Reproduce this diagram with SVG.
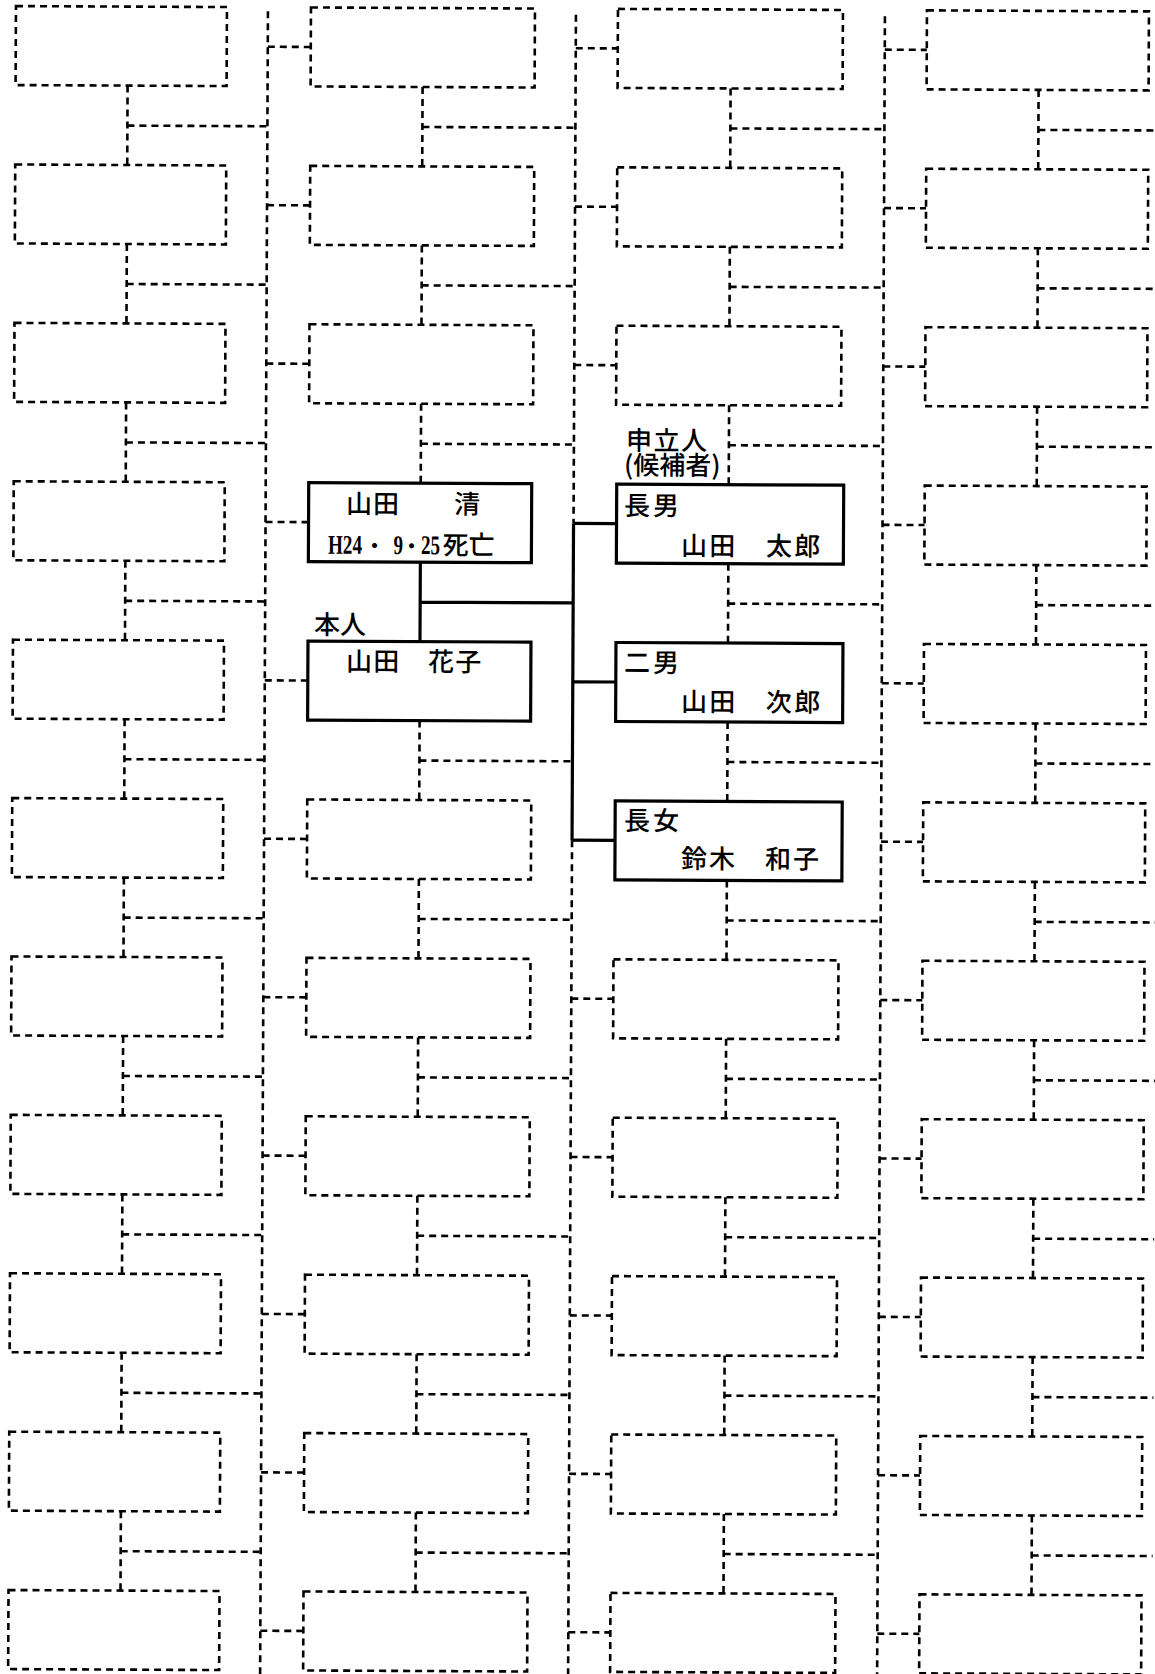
<svg xmlns="http://www.w3.org/2000/svg" width="1155" height="1674" viewBox="0 0 1155 1674">
<style>
.d{fill:none;stroke:#000;stroke-width:2.6;stroke-dasharray:7 5}
.s{fill:none;stroke:#000;stroke-width:3.2}
.t{font-family:"Noto Sans CJK JP","Noto Sans CJK SC",sans-serif;font-size:26px;font-weight:500;fill:#000}
.n{font-family:"Liberation Serif",serif;font-size:27px;font-weight:700}
</style>
<rect width="1155" height="1674" fill="#fff"/>
<g transform="rotate(0.27)">
<g id="connectors">
<path class="d" d="M268 10V1680"/>
<path class="d" d="M576 12V520.7M576 837.5V1680"/>
<path class="s" d="M576 520.7V837.5"/>
<path class="d" d="M885 12V1680"/>
<path class="d" d="M128 85V164.4M128 125H268"/>
<path class="d" d="M128 243.4V322.8M128 283.4H268"/>
<path class="d" d="M128 401.8V481.2M128 441.8H268"/>
<path class="d" d="M128 560.2V639.6M128 600.2H268"/>
<path class="d" d="M128 718.6V798M128 758.6H268"/>
<path class="d" d="M128 877V956.4M128 917H268"/>
<path class="d" d="M128 1035.4V1114.8M128 1075.4H268"/>
<path class="d" d="M128 1193.8V1273.2M128 1233.8H268"/>
<path class="d" d="M128 1352.2V1431.6M128 1392.2H268"/>
<path class="d" d="M128 1510.6V1590M128 1550.6H268"/>
<path class="d" d="M423 85V164.4M423 125H576"/>
<path class="d" d="M423 243.4V322.8M423 283.4H576"/>
<path class="d" d="M423 401.8V481.2M423 441.8H576"/>
<path class="s" d="M423 560.2V639.6M423 600.2H576"/>
<path class="d" d="M423 718.6V798M423 758.6H576"/>
<path class="d" d="M423 877V956.4M423 917H576"/>
<path class="d" d="M423 1035.4V1114.8M423 1075.4H576"/>
<path class="d" d="M423 1193.8V1273.2M423 1233.8H576"/>
<path class="d" d="M423 1352.2V1431.6M423 1392.2H576"/>
<path class="d" d="M423 1510.6V1590M423 1550.6H576"/>
<path class="d" d="M731 85V164.4M731 125H885"/>
<path class="d" d="M731 243.4V322.8M731 283.4H885"/>
<path class="d" d="M731 401.8V481.2M731 441.8H885"/>
<path class="d" d="M731 560.2V639.6M731 600.2H885"/>
<path class="d" d="M731 718.6V798M731 758.6H885"/>
<path class="d" d="M731 877V956.4M731 917H885"/>
<path class="d" d="M731 1035.4V1114.8M731 1075.4H885"/>
<path class="d" d="M731 1193.8V1273.2M731 1233.8H885"/>
<path class="d" d="M731 1352.2V1431.6M731 1392.2H885"/>
<path class="d" d="M731 1510.6V1590M731 1550.6H885"/>
<path class="d" d="M1039 85V164.4M1039 125H1160"/>
<path class="d" d="M1039 243.4V322.8M1039 283.4H1160"/>
<path class="d" d="M1039 401.8V481.2M1039 441.8H1160"/>
<path class="d" d="M1039 560.2V639.6M1039 600.2H1160"/>
<path class="d" d="M1039 718.6V798M1039 758.6H1160"/>
<path class="d" d="M1039 877V956.4M1039 917H1160"/>
<path class="d" d="M1039 1035.4V1114.8M1039 1075.4H1160"/>
<path class="d" d="M1039 1193.8V1273.2M1039 1233.8H1160"/>
<path class="d" d="M1039 1352.2V1431.6M1039 1392.2H1160"/>
<path class="d" d="M1039 1510.6V1590M1039 1550.6H1160"/>
<path class="d" d="M268 45.5H311M268 203.9H311M268 362.3H311M268 520.7H311M268 679.1H311M268 837.5H311M268 995.9H311M268 1154.3H311M268 1312.7H311M268 1471.1H311M268 1629.5H311"/>
<path class="d" d="M576 45.5H618M576 203.9H618M576 362.3H618M576 995.9H618M576 1154.3H618M576 1312.7H618M576 1471.1H618M576 1629.5H618"/>
<path class="s" d="M576 520.7H619M576 679.1H619M576 837.5H619"/>
<path class="d" d="M885 45.5H927M885 203.9H927M885 362.3H927M885 520.7H927M885 679.1H927M885 837.5H927M885 995.9H927M885 1154.3H927M885 1312.7H927M885 1471.1H927M885 1629.5H927"/>
</g>
<g id="col1">
<g id="c1r0"><rect class="d" x="16" y="6" width="211" height="79"/></g>
<g id="c1r1"><rect class="d" x="16" y="164.4" width="211" height="79"/></g>
<g id="c1r2"><rect class="d" x="16" y="322.8" width="211" height="79"/></g>
<g id="c1r3"><rect class="d" x="16" y="481.2" width="211" height="79"/></g>
<g id="c1r4"><rect class="d" x="16" y="639.6" width="211" height="79"/></g>
<g id="c1r5"><rect class="d" x="16" y="798" width="211" height="79"/></g>
<g id="c1r6"><rect class="d" x="16" y="956.4" width="211" height="79"/></g>
<g id="c1r7"><rect class="d" x="16" y="1114.8" width="211" height="79"/></g>
<g id="c1r8"><rect class="d" x="16" y="1273.2" width="211" height="79"/></g>
<g id="c1r9"><rect class="d" x="16" y="1431.6" width="211" height="79"/></g>
<g id="c1r10"><rect class="d" x="16" y="1590" width="211" height="79"/></g>
</g>
<g id="col2">
<g id="c2r0"><rect class="d" x="311" y="6" width="224" height="79"/></g>
<g id="c2r1"><rect class="d" x="311" y="164.4" width="224" height="79"/></g>
<g id="c2r2"><rect class="d" x="311" y="322.8" width="224" height="79"/></g>
<g id="kiyoshi"><rect class="s" x="311" y="481.2" width="223" height="79"/>
<text class="t" x="348.4" y="511.4" letter-spacing="1">山田　　清</text>
<text class="t" y="552.1" font-size="22"><tspan class="n" x="330.6" textLength="34" lengthAdjust="spacingAndGlyphs">H24</tspan><tspan x="366" font-size="22">・</tspan> <tspan class="n" x="396" textLength="9.5" lengthAdjust="spacingAndGlyphs">9</tspan><tspan x="403" font-size="22">・</tspan><tspan class="n" x="423.6" textLength="19" lengthAdjust="spacingAndGlyphs">25</tspan> <tspan x="445">死亡</tspan></text>
</g>
<g id="hanako"><rect class="s" x="311" y="639.6" width="223" height="79"/>
<text class="t" x="317" y="632.5" letter-spacing="0">本人</text>
<text class="t" x="349.2" y="669" letter-spacing="1.3">山田　花子</text>
</g>
<g id="c2r5"><rect class="d" x="311" y="798" width="224" height="79"/></g>
<g id="c2r6"><rect class="d" x="311" y="956.4" width="224" height="79"/></g>
<g id="c2r7"><rect class="d" x="311" y="1114.8" width="224" height="79"/></g>
<g id="c2r8"><rect class="d" x="311" y="1273.2" width="224" height="79"/></g>
<g id="c2r9"><rect class="d" x="311" y="1431.6" width="224" height="79"/></g>
<g id="c2r10"><rect class="d" x="311" y="1590" width="224" height="79"/></g>
</g>
<g id="col3">
<g id="c3r0"><rect class="d" x="618" y="6" width="225" height="79"/></g>
<g id="c3r1"><rect class="d" x="618" y="164.4" width="225" height="79"/></g>
<g id="c3r2"><rect class="d" x="618" y="322.8" width="225" height="79"/></g>
<g id="taro"><rect class="s" x="619" y="481.2" width="227" height="79"/>
<text class="t" x="628.1" y="446.9" letter-spacing="1.5">申立人</text>
<text class="t" x="626.2" y="471.5" font-size="22" letter-spacing="0">(候補者)</text>
<text class="t" x="626.4" y="512" letter-spacing="3">長男</text>
<text class="t" x="683.6" y="551.8" letter-spacing="2.3">山田　太郎</text>
</g>
<g id="jiro"><rect class="s" x="619" y="639.6" width="227" height="79"/>
<text class="t" x="627.2" y="669" letter-spacing="3">二男</text>
<text class="t" x="684.3" y="707.8" letter-spacing="2.3">山田　次郎</text>
</g>
<g id="kazuko"><rect class="s" x="619" y="798" width="227" height="79"/>
<text class="t" x="627.9" y="827" letter-spacing="3">長女</text>
<text class="t" x="685.1" y="864.8" letter-spacing="2">鈴木　和子</text>
</g>
<g id="c3r6"><rect class="d" x="618" y="956.4" width="225" height="79"/></g>
<g id="c3r7"><rect class="d" x="618" y="1114.8" width="225" height="79"/></g>
<g id="c3r8"><rect class="d" x="618" y="1273.2" width="225" height="79"/></g>
<g id="c3r9"><rect class="d" x="618" y="1431.6" width="225" height="79"/></g>
<g id="c3r10"><rect class="d" x="618" y="1590" width="225" height="79"/></g>
</g>
<g id="col4">
<g id="c4r0"><rect class="d" x="927" y="6" width="222" height="79"/></g>
<g id="c4r1"><rect class="d" x="927" y="164.4" width="222" height="79"/></g>
<g id="c4r2"><rect class="d" x="927" y="322.8" width="222" height="79"/></g>
<g id="c4r3"><rect class="d" x="927" y="481.2" width="222" height="79"/></g>
<g id="c4r4"><rect class="d" x="927" y="639.6" width="222" height="79"/></g>
<g id="c4r5"><rect class="d" x="927" y="798" width="222" height="79"/></g>
<g id="c4r6"><rect class="d" x="927" y="956.4" width="222" height="79"/></g>
<g id="c4r7"><rect class="d" x="927" y="1114.8" width="222" height="79"/></g>
<g id="c4r8"><rect class="d" x="927" y="1273.2" width="222" height="79"/></g>
<g id="c4r9"><rect class="d" x="927" y="1431.6" width="222" height="79"/></g>
<g id="c4r10"><rect class="d" x="927" y="1590" width="222" height="79"/></g>
</g>
</g>
</svg>
